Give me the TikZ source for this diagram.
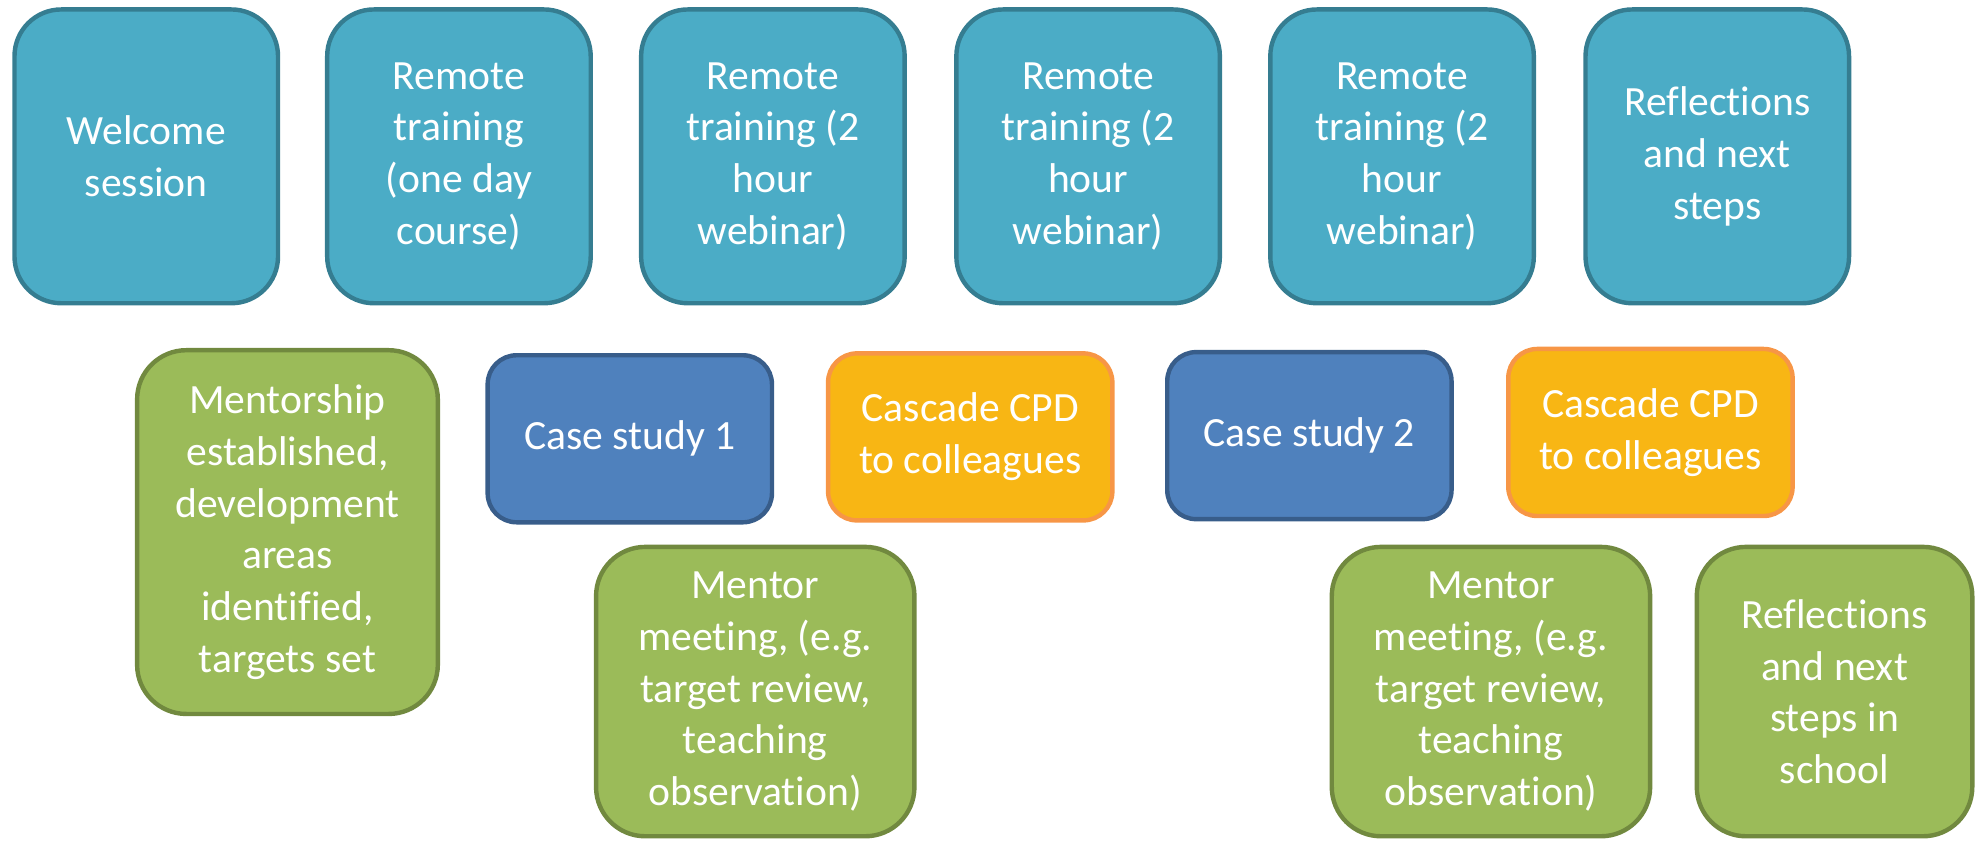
\documentclass[tikz,border=0pt]{standalone}
\usepackage{fontspec}
\setmainfont[Ligatures=NoCommon]{Carlito}
\definecolor{tealF}{HTML}{4BACC6}
\definecolor{tealD}{HTML}{357D91}
\definecolor{greenF}{HTML}{9BBB59}
\definecolor{greenD}{HTML}{71893F}
\definecolor{blueF}{HTML}{4F81BD}
\definecolor{blueD}{HTML}{385D8A}
\definecolor{orangeF}{HTML}{F8B614}
\definecolor{orangeD}{HTML}{F79646}
\begin{document}
\begin{tikzpicture}[x=1pt,y=-1pt,
  basebox/.style={draw, line width=3.5pt, text=white, align=center, inner sep=0pt,
    font=\fontsize{33}{41}\selectfont},
  topbox/.style={basebox, fill=tealF, draw=tealD, rounded corners=37pt,
    minimum width=209pt, minimum height=233pt},
  greenbox/.style={basebox, fill=greenF, draw=greenD, rounded corners=39pt},
  bluebox/.style={basebox, fill=blueF, draw=blueD, rounded corners=23pt,
    minimum width=225.5pt, minimum height=132.5pt},
  orangebox/.style={basebox, fill=orangeF, draw=orangeD, rounded corners=23pt,
    minimum width=225.5pt, minimum height=132.5pt}]
\useasboundingbox (0,0) rectangle (1568,669);
% top row
\node[topbox] (w)  at (116,124)  {Welcome\\session};
\node[topbox] (r1) at (364,124)  {Remote\\training\\(one day\\course)};
\node[topbox] (r2) at (613,124)  {Remote\\training (2\\hour\\webinar)};
\node[topbox] (r3) at (863,124)  {Remote\\training (2\\hour\\webinar)};
\node[topbox] (r4) at (1112,124) {Remote\\training (2\\hour\\webinar)};
\node[topbox] (rf) at (1362,124) {Reflections\\and next\\steps};
% second row
\node[greenbox, minimum width=238.5pt, minimum height=288.5pt] (ment) at (228,422)
  {Mentorship\\established,\\development\\areas\\identified,\\targets set};
\node[bluebox] (cs1) at (499.5,348) {Case study 1};
\node[orangebox] (cc1) at (769.5,346.5) {Cascade CPD\\to colleagues};
\node[bluebox] (cs2) at (1038.5,345.5) {Case study 2};
\node[orangebox] (cc2) at (1309,343) {Cascade CPD\\to colleagues};
% third row
\node[greenbox, minimum width=252.5pt, minimum height=229.5pt] (mm1) at (599,548.5)
  {Mentor\\meeting, (e.g.\\target review,\\teaching\\observation)};
\node[greenbox, minimum width=252.5pt, minimum height=229.5pt] (mm2) at (1182.5,548.5)
  {Mentor\\meeting, (e.g.\\target review,\\teaching\\observation)};
\node[greenbox, minimum width=218.5pt, minimum height=229.5pt] (rs) at (1455,548.5)
  {Reflections\\and next\\steps in\\school};
\end{tikzpicture}
\end{document}
